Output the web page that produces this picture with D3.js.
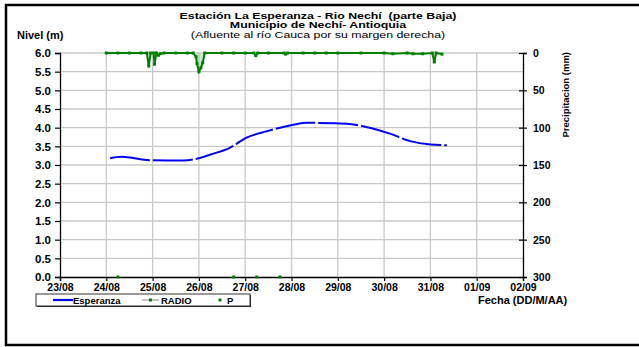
<!DOCTYPE html>
<html>
<head>
<meta charset="utf-8">
<script src="https://cdn.jsdelivr.net/npm/d3@7"></script>
<style>
  body { margin: 0; background: white; }
  svg text { font-family: "Liberation Sans", Arial, sans-serif; }
</style>
</head>
<body>
<div id="chart"></div>
<script>
// nivel (m) - Esperanza
let nivelFechas = ['2011-08-24 02:00', '2011-08-24 08:00', '2011-08-24 22:30', '2011-08-25 16:00',
	'2011-08-26 00:30', '2011-08-26 06:00', '2011-08-26 16:00', '2011-08-27 01:00', '2011-08-27 11:00',
	'2011-08-28 01:00', '2011-08-28 08:00', '2011-08-28 22:00', '2011-08-29 06:00', '2011-08-29 17:00',
	'2011-08-30 03:00', '2011-08-30 13:30', '2011-08-31 00:00', '2011-08-31 08:30'];
let nivelValores = [3.18, 3.22, 3.13, 3.12, 3.19, 3.28, 3.46, 3.74, 3.9, 4.08, 4.13, 4.12, 4.1, 3.99,
	3.84, 3.64, 3.55, 3.53];

// precipitacion RADIO (mm)
let radioFechas = ['2011-08-24 00:00', '2011-08-24 06:00', '2011-08-24 12:00', '2011-08-24 18:00',
	'2011-08-24 21:00', '2011-08-24 22:00', '2011-08-24 23:00', '2011-08-25 00:30', '2011-08-25 01:00',
	'2011-08-25 02:00', '2011-08-25 03:00', '2011-08-25 04:00', '2011-08-25 06:00', '2011-08-25 12:00',
	'2011-08-25 18:00', '2011-08-25 21:00', '2011-08-25 22:30', '2011-08-25 23:00', '2011-08-26 00:00',
	'2011-08-26 01:00', '2011-08-26 02:00', '2011-08-26 03:00', '2011-08-26 12:00', '2011-08-26 18:00',
	'2011-08-27 00:00', '2011-08-27 04:30', '2011-08-27 05:30', '2011-08-27 06:30', '2011-08-27 12:00',
	'2011-08-27 20:00', '2011-08-27 21:00', '2011-08-27 22:00', '2011-08-28 06:00', '2011-08-28 12:00',
	'2011-08-28 18:00', '2011-08-29 00:00', '2011-08-29 12:00', '2011-08-30 00:00', '2011-08-30 04:30',
	'2011-08-30 12:00', '2011-08-30 15:00', '2011-08-30 20:00', '2011-08-31 01:00', '2011-08-31 02:00',
	'2011-08-31 03:00', '2011-08-31 06:00'];
let radioValores = [0, 0, 0, 0, 0, 17.5, 0, 0, 15, 0, 3, 1, 0, 0, 0, 0, 5, 14, 25, 20, 13, 0, 0, 0,
	0, 0, 3.5, 0, 0, 0, 1.5, 0, 0, 0, 0, 0, 0, 0, 1, 0, 1, 1, 0, 12, 0, 1.5];

// P
let pFechas = ['2011-08-24 06:00', '2011-08-26 18:00', '2011-08-27 06:00', '2011-08-27 18:00'];
let pValores = [0, 0, 0, 0];

// eje x
let diasTicks = ['2011-08-23', '2011-08-24', '2011-08-25', '2011-08-26', '2011-08-27', '2011-08-28',
	'2011-08-29', '2011-08-30', '2011-08-31', '2011-09-01', '2011-09-02'];

let parseHora = d3.timeParse('%Y-%m-%d %H:%M');
let parseDia = d3.timeParse('%Y-%m-%d');

let nivel = nivelFechas.map((f, i) => ({ fecha: parseHora(f), valor: nivelValores[i] }));
let radio = radioFechas.map((f, i) => ({ fecha: parseHora(f), valor: radioValores[i] }));
let pData = pFechas.map((f, i) => ({ fecha: parseHora(f), valor: pValores[i] }));
let dias = diasTicks.map(parseDia);

let width = 639,
	height = 347,
	margin = { top: 53, bottom: 70, left: 60, right: 116 };

let svg = d3.select('#chart')
	.append('svg')
		.attr('width', width)
		.attr('height', height)
		.style('background', 'white');

// marco exterior
svg.append('rect')
	.attr('x', 6).attr('y', 5)
	.attr('width', 660).attr('height', 340)
	.attr('fill', 'none')
	.attr('stroke', 'black')
	.attr('stroke-width', 2.5);

let xScale = d3.scaleTime()
	.domain([dias[0], dias[dias.length - 1]])
	.range([margin.left, width - margin.right]);

let yScale = d3.scaleLinear()
	.domain([0, 6])
	.range([height - margin.bottom, margin.top]);

let pScale = d3.scaleLinear()
	.domain([0, 300])
	.range([margin.top, height - margin.bottom]);

// grilla
let grid = svg.append('g');
grid.selectAll('line.h')
	.data(d3.range(0.5, 6.01, 0.5))
	.enter().append('line')
	.attr('x1', margin.left).attr('x2', width - margin.right)
	.attr('y1', d => yScale(d)).attr('y2', d => yScale(d))
	.attr('stroke', '#c8c8c8').attr('stroke-width', 1.3);
grid.selectAll('line.v')
	.data(dias.slice(1, -1))
	.enter().append('line')
	.attr('x1', d => xScale(d)).attr('x2', d => xScale(d))
	.attr('y1', margin.top).attr('y2', height - margin.bottom)
	.attr('stroke', '#c8c8c8').attr('stroke-width', 1.3);

// ejes
let yAxis = d3.axisLeft(yScale)
	.tickValues(d3.range(0, 6.01, 0.5))
	.tickFormat(d3.format('.1f'))
	.tickSize(5).tickPadding(4);
let gy = svg.append('g')
	.attr('transform', 'translate(' + margin.left + ',0)')
	.call(yAxis);

let pAxis = d3.axisRight(pScale)
	.tickValues(d3.range(0, 301, 50))
	.tickSize(4).tickPadding(6);
let gp = svg.append('g')
	.attr('transform', 'translate(' + (width - margin.right) + ',0)')
	.call(pAxis);
gp.selectAll('.tick line').attr('x1', -4);

let xAxis = d3.axisBottom(xScale)
	.tickValues(dias)
	.tickFormat(d3.timeFormat('%d/%m'))
	.tickSize(4).tickPadding(3);
let gx = svg.append('g')
	.attr('transform', 'translate(0,' + (height - margin.bottom) + ')')
	.call(xAxis);

[gy, gp, gx].forEach(g => {
	g.select('.domain').attr('stroke', 'black').attr('stroke-width', 1.3);
	g.selectAll('.tick line').attr('stroke', 'black').attr('stroke-width', 1.2);
	g.selectAll('.tick text')
		.attr('fill', 'black')
		.style('font-size', '10.5px')
		.style('font-weight', 'bold');
});
gy.selectAll('.tick text').style('font-size', '11.5px');

// serie RADIO (precipitacion)
let radioLine = d3.line()
	.x(d => xScale(d.fecha))
	.y(d => pScale(d.valor));
svg.append('path')
	.datum(radio)
	.attr('d', radioLine)
	.attr('fill', '#a8d8a8')
	.attr('fill-opacity', 0.6)
	.attr('stroke', '#008000')
	.attr('stroke-width', 2);
svg.append('g')
	.selectAll('rect')
	.data(radio)
	.enter().append('rect')
	.attr('x', d => xScale(d.fecha) - 1.5)
	.attr('y', d => pScale(d.valor) - 1.5)
	.attr('width', 3).attr('height', 3)
	.attr('fill', '#008000');

// serie Esperanza
let nivelLine = d3.line()
	.x(d => xScale(d.fecha))
	.y(d => yScale(d.valor))
	.curve(d3.curveMonotoneX);
svg.append('path')
	.datum(nivel)
	.attr('d', nivelLine)
	.attr('fill', 'none')
	.attr('stroke', '#0000ff')
	.attr('stroke-width', 2)
	.attr('stroke-dasharray', '40,3');

// serie P
svg.append('g')
	.selectAll('rect')
	.data(pData)
	.enter().append('rect')
	.attr('x', d => xScale(d.fecha) - 1.5)
	.attr('y', d => yScale(d.valor) - 1.5)
	.attr('width', 3).attr('height', 3)
	.attr('fill', '#008000');

// titulos
let titulo = svg.append('g')
	.attr('transform', 'translate(318,0) scale(1.3,1)')
	.attr('text-anchor', 'middle')
	.style('font-size', '9.5px');
titulo.append('text').attr('x', 0).attr('y', 19)
	.attr('xml:space', 'preserve')
	.style('font-weight', 'bold')
	.text('Estación La Esperanza - Rio Nechí  (parte Baja)');
titulo.append('text').attr('x', 0).attr('y', 28.5)
	.style('font-weight', 'bold')
	.text('Municipio de Nechí- Antioquia');
titulo.append('text').attr('x', 0).attr('y', 38.5)
	.text('(Afluente al río Cauca por su margen derecha)');

svg.append('text')
	.attr('x', 17).attr('y', 39)
	.style('font-size', '11px').style('font-weight', 'bold')
	.text('Nivel (m)');

svg.append('text')
	.attr('transform', 'translate(569,52) rotate(-90)')
	.attr('text-anchor', 'end')
	.style('font-size', '9.5px').style('font-weight', 'bold')
	.text('Precipitacion (mm)');

svg.append('text')
	.attr('x', 478).attr('y', 304)
	.style('font-size', '11px').style('font-weight', 'bold')
	.text('Fecha (DD/M/AA)');

// leyenda
let leyenda = svg.append('g');
leyenda.append('rect')
	.attr('x', 37).attr('y', 295)
	.attr('width', 214).attr('height', 12)
	.attr('fill', '#222');
leyenda.append('rect')
	.attr('x', 36).attr('y', 294)
	.attr('width', 214).attr('height', 12)
	.attr('fill', 'white')
	.attr('stroke', '#333').attr('stroke-width', 1);
leyenda.append('line')
	.attr('x1', 53).attr('x2', 73).attr('y1', 300).attr('y2', 300)
	.attr('stroke', '#0000ff').attr('stroke-width', 2.2);
leyenda.append('text').attr('x', 73).attr('y', 303.5).text('Esperanza');
leyenda.append('line')
	.attr('x1', 142).attr('x2', 159).attr('y1', 300).attr('y2', 300)
	.attr('stroke', '#b0b0b0').attr('stroke-width', 1.5);
leyenda.append('rect')
	.attr('x', 149).attr('y', 298.5).attr('width', 3).attr('height', 3)
	.attr('fill', '#008000');
leyenda.append('text').attr('x', 161).attr('y', 303.5).text('RADIO');
leyenda.append('rect')
	.attr('x', 218.5).attr('y', 298.5).attr('width', 3).attr('height', 3)
	.attr('fill', '#008000');
leyenda.append('text').attr('x', 227).attr('y', 303.5).text('P');
leyenda.selectAll('text')
	.style('font-size', '9.5px').style('font-weight', 'bold');
</script>
</body>
</html>
